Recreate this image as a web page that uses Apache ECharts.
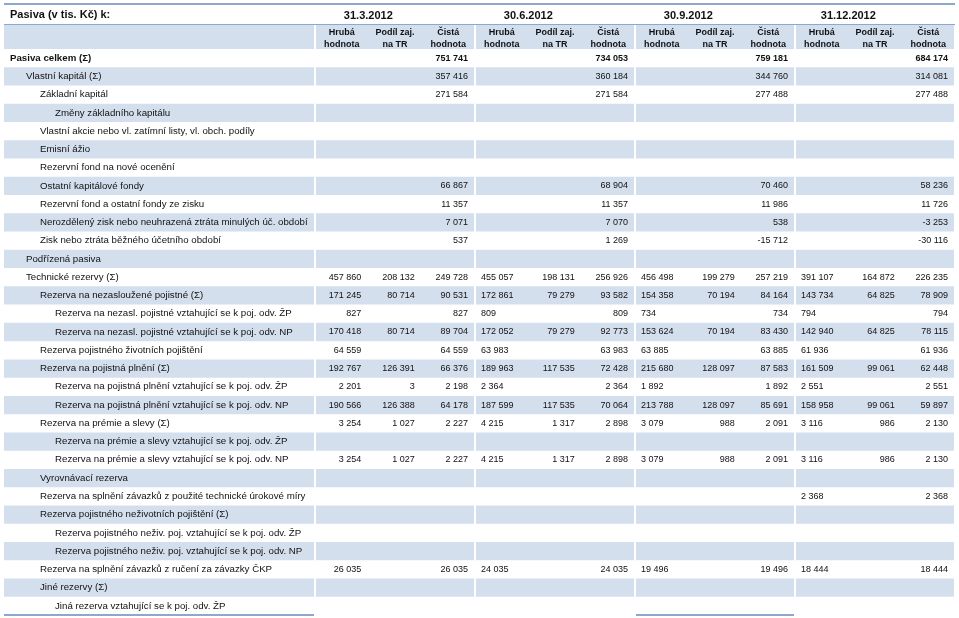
<!DOCTYPE html>
<html><head><meta charset="utf-8">
<script src="https://cdn.jsdelivr.net/npm/echarts@6/dist/echarts.min.js"></script>
<style>html,body{margin:0;padding:0;background:#fff}#c{width:959px;height:618px}</style>
</head><body><div id="c"></div>
<script>
// ---------- DATA ----------
const tableTitle = 'Pasiva (v tis. Kč) k:';
const periods = ['31.3.2012', '30.6.2012', '30.9.2012', '31.12.2012'];
const subHeaders = ['Hrubá\nhodnota', 'Podíl zaj.\nna TR', 'Čistá\nhodnota'];
const rowLabels = [
  'Pasiva celkem (Σ)',
  'Vlastní kapitál (Σ)',
  'Základní kapitál',
  'Změny základního kapitálu',
  'Vlastní akcie nebo vl. zatímní listy, vl. obch. podíly',
  'Emisní ážio',
  'Rezervní fond na nové ocenění',
  'Ostatní kapitálové fondy',
  'Rezervní fond a ostatní fondy ze zisku',
  'Nerozdělený zisk nebo neuhrazená ztráta minulých úč. období',
  'Zisk nebo ztráta běžného účetního období',
  'Podřízená pasiva',
  'Technické rezervy (Σ)',
  'Rezerva na nezasloužené pojistné (Σ)',
  'Rezerva na nezasl. pojistné vztahující se k poj. odv. ŽP',
  'Rezerva na nezasl. pojistné vztahující se k poj. odv. NP',
  'Rezerva pojistného životních pojištění',
  'Rezerva na pojistná plnění (Σ)',
  'Rezerva na pojistná plnění vztahující se k poj. odv. ŽP',
  'Rezerva na pojistná plnění vztahující se k poj. odv. NP',
  'Rezerva na prémie a slevy (Σ)',
  'Rezerva na prémie a slevy vztahující se k poj. odv. ŽP',
  'Rezerva na prémie a slevy vztahující se k poj. odv. NP',
  'Vyrovnávací rezerva',
  'Rezerva na splnění závazků z použité technické úrokové míry',
  'Rezerva pojistného neživotních pojištění (Σ)',
  'Rezerva pojistného neživ. poj. vztahující se k poj. odv. ŽP',
  'Rezerva pojistného neživ. poj. vztahující se k poj. odv. NP',
  'Rezerva na splnění závazků z ručení za závazky ČKP',
  'Jiné rezervy (Σ)',
  'Jiná rezerva vztahující se k poj. odv. ŽP'
];
const rowLevels = [0,1,2,3,2,2,2,2,2,2,2,1,1,2,3,3,2,2,3,3,2,3,3,2,2,2,3,3,2,2,3];
const _ = null;
// Hrubá hodnota (gross)
const hrubaQ1 = [_,_,_,_,_,_,_,_,_,_,_,_, 457860,171245,827,170418,64559,192767,2201,190566,3254,_,3254, _,_,_,_,_,26035,_,_];
const hrubaQ2 = [_,_,_,_,_,_,_,_,_,_,_,_, 455057,172861,809,172052,63983,189963,2364,187599,4215,_,4215, _,_,_,_,_,24035,_,_];
const hrubaQ3 = [_,_,_,_,_,_,_,_,_,_,_,_, 456498,154358,734,153624,63885,215680,1892,213788,3079,_,3079, _,_,_,_,_,19496,_,_];
const hrubaQ4 = [_,_,_,_,_,_,_,_,_,_,_,_, 391107,143734,794,142940,61936,161509,2551,158958,3116,_,3116, _,2368,_,_,_,18444,_,_];
// Podíl zajistitele na TR (reinsurers' share)
const podilQ1 = [_,_,_,_,_,_,_,_,_,_,_,_, 208132,80714,_,80714,_,126391,3,126388,1027,_,1027, _,_,_,_,_,_,_,_];
const podilQ2 = [_,_,_,_,_,_,_,_,_,_,_,_, 198131,79279,_,79279,_,117535,_,117535,1317,_,1317, _,_,_,_,_,_,_,_];
const podilQ3 = [_,_,_,_,_,_,_,_,_,_,_,_, 199279,70194,_,70194,_,128097,_,128097,988,_,988, _,_,_,_,_,_,_,_];
const podilQ4 = [_,_,_,_,_,_,_,_,_,_,_,_, 164872,64825,_,64825,_,99061,_,99061,986,_,986, _,_,_,_,_,_,_,_];
// Čistá hodnota (net)
const cistaQ1 = [751741,357416,271584,_,_,_,_,66867,11357,7071,537,_, 249728,90531,827,89704,64559,66376,2198,64178,2227,_,2227, _,_,_,_,_,26035,_,_];
const cistaQ2 = [734053,360184,271584,_,_,_,_,68904,11357,7070,1269,_, 256926,93582,809,92773,63983,72428,2364,70064,2898,_,2898, _,_,_,_,_,24035,_,_];
const cistaQ3 = [759181,344760,277488,_,_,_,_,70460,11986,538,-15712,_, 257219,84164,734,83430,63885,87583,1892,85691,2091,_,2091, _,_,_,_,_,19496,_,_];
const cistaQ4 = [684174,314081,277488,_,_,_,_,58236,11726,-3253,-30116,_, 226235,78909,794,78115,61936,62448,2551,59897,2130,_,2130, _,2368,_,_,_,18444,_,_];

// ---------- BUILD ----------
const FONT = '"Liberation Sans", Arial, sans-serif';
const BLUE = '#D4DFEE';
const RULE = '#8DA8CF';
const TXT = '#111111';
const LBL = 9.7, NUM = 9;
const GRID_LEFT = 315, GRID_RIGHT = 4;
const colW = (959 - GRID_LEFT - GRID_RIGHT) / (periods.length * subHeaders.length);

const cols = [];
periods.forEach(() => subHeaders.forEach(h => cols.push(h)));
const valueSets = [[hrubaQ1, podilQ1, cistaQ1], [hrubaQ2, podilQ2, cistaQ2], [hrubaQ3, podilQ3, cistaQ3], [hrubaQ4, podilQ4, cistaQ4]];
const cellData = [];
valueSets.forEach((set, p) => set.forEach((arr, k) => arr.forEach((v, r) => {
  if (v !== null) cellData.push([p * 3 + k, r, v]);
})));
const bandRows = rowLabels.map((l, i) => [0, i]).filter(d => d[1] % 2 === 1);

function fmt(v) {
  const s = String(Math.abs(v)).replace(/\B(?=(\d{3})+(?!\d))/g, ' ');
  return (v < 0 ? '-' : '') + s;
}

function segRects(params, api, y, h) {
  const cs = params.coordSys;
  const w = api.size([1, 0])[0];
  const out = [{ type: 'rect', shape: { x: 4, y: y, width: cs.x - 5, height: h }, style: { fill: BLUE } }];
  for (let p = 0; p < periods.length; p++) {
    const x0 = api.coord([p * 3, 0])[0] - w / 2;
    out.push({ type: 'rect', shape: { x: x0 + 1, y: y, width: 3 * w - 2, height: h }, style: { fill: BLUE } });
  }
  return out;
}

const chart = echarts.init(document.getElementById('c'));
chart.setOption({
  animation: false,
  backgroundColor: '#fff',
  title: { text: tableTitle, left: 10, top: 9, padding: 0, textStyle: { fontFamily: FONT, fontSize: 11, fontWeight: 'bold', color: TXT } },
  grid: { left: GRID_LEFT, right: GRID_RIGHT, top: 49, bottom: 3, outerBoundsMode: 'none' },
  xAxis: [
    { type: 'category', data: cols, position: 'top', z: 10,
      axisLine: { show: false }, axisTick: { show: false }, splitLine: { show: false },
      axisLabel: { interval: 0, margin: -2, fontFamily: FONT, fontSize: 9, fontWeight: 'bold', lineHeight: 12, color: TXT, align: 'center' } },
    { type: 'category', data: periods, position: 'top', offset: 26, z: 10,
      axisLine: { show: false }, axisTick: { show: false }, splitLine: { show: false },
      axisLabel: { interval: 0, margin: 2, fontFamily: FONT, fontSize: 11, fontWeight: 'bold', color: TXT,
        padding: [0, colW, 0, 0] } }
  ],
  yAxis: { type: 'category', data: rowLabels, inverse: true, z: 10,
    axisLine: { show: false }, axisTick: { show: false }, splitLine: { show: false },
    axisLabel: { interval: 0, align: 'left', margin: 305, color: TXT, fontFamily: FONT, fontSize: LBL,
      formatter: (v, i) => (i === 0 ? '{b|' : '{l' + rowLevels[i] + '|') + v + '}',
      rich: {
        b: { fontFamily: FONT, fontSize: LBL, fontWeight: 'bold', color: TXT },
        l1: { fontFamily: FONT, fontSize: LBL, color: TXT, padding: [0, 0, 0, 16] },
        l2: { fontFamily: FONT, fontSize: LBL, color: TXT, padding: [0, 0, 0, 30] },
        l3: { fontFamily: FONT, fontSize: LBL, color: TXT, padding: [0, 0, 0, 45] }
      } } },
  series: [
    { type: 'custom', name: 'frame', z: 1, silent: true, clip: false, data: [[0, 0]],
      renderItem: (params, api) => {
        const cs = params.coordSys;
        const right = cs.x + cs.width;
        const children = segRects(params, api, cs.y - 24, 24);
        children.push({ type: 'rect', shape: { x: 4, y: cs.y - 46, width: right - 4, height: 2 }, style: { fill: RULE } });
        children.push({ type: 'rect', shape: { x: 4, y: cs.y - 25, width: right - 4, height: 1 }, style: { fill: RULE } });
        const w = api.size([1, 0])[0];
        const bottom = cs.y + cs.height - 1;
        children.push({ type: 'rect', shape: { x: 4, y: bottom, width: cs.x - 5, height: 2 }, style: { fill: RULE } });
        const g3 = api.coord([6, 0])[0] - w / 2;
        children.push({ type: 'rect', shape: { x: g3 + 1, y: bottom, width: 3 * w - 2, height: 2 }, style: { fill: RULE } });
        return { type: 'group', children };
      } },
    { type: 'custom', name: 'bands', z: 1, silent: true, clip: false, data: bandRows,
      renderItem: (params, api) => {
        const c = api.coord([0, api.value(1)]);
        const h = api.size([0, 1])[1];
        return { type: 'group', children: segRects(params, api, c[1] - h / 2, h) };
      } },
    { type: 'custom', name: 'values', z: 20, silent: true, clip: false, data: cellData,
      renderItem: (params, api) => {
        const col = api.value(0), row = api.value(1), v = api.value(2);
        const c = api.coord([col, row]);
        const w = api.size([1, 1])[0];
        const k = col % 3, p = Math.floor(col / 3);
        let x, align;
        if (k === 0 && p > 0) { x = c[0] - w / 2 + 6; align = 'left'; }
        else { x = c[0] + w / 2 - 7; align = 'right'; }
        return { type: 'text', style: { x, y: c[1], text: fmt(v), align, verticalAlign: 'middle',
          fontFamily: FONT, fontSize: NUM, fontWeight: row === 0 ? 'bold' : 'normal', fill: TXT } };
      } }
  ]
});
</script></body></html>
